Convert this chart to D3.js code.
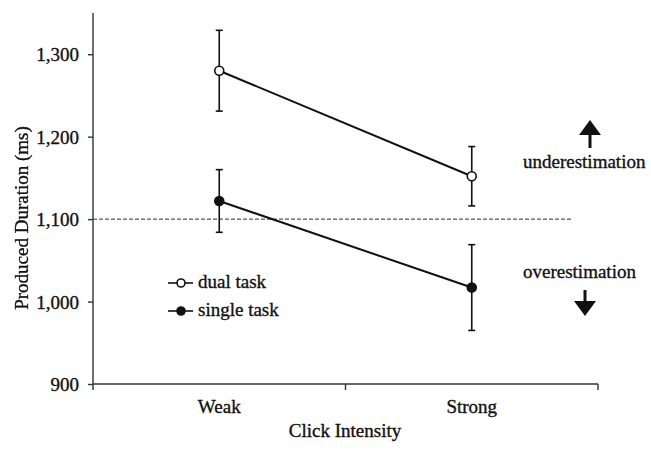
<!doctype html>
<html lang="en">

<head>
    <meta charset="utf-8">
    <title>Produced Duration</title>
    <style>
        body {
            margin: 0;
            background: #fff;
        }

        text {
            font-family: "Liberation Serif", "Times New Roman", serif;
            font-size: 19px;
            fill: #111;
            stroke: #111;
            stroke-width: 0.35px;
        }

        .ylabel {
            filter: grayscale(1);
        }

        .axis path,
        .axis line {
            stroke: #333;
            stroke-width: 1.4px;
        }
    </style>
</head>

<body>
    <div id="chart"></div>
    <script src="https://cdn.jsdelivr.net/npm/d3@7"></script>

    <script>
        var categories = ["Weak", "Strong"];
        var yTicks = [900, 1000, 1100, 1200, 1300];
        var dualMeans = [1280, 1152];
        var dualErrors = [49, 36];
        var singleMeans = [1122, 1017];
        var singleErrors = [38, 52];
        var reference = 1100;

        (function () {
            var width = 651;
            var height = 451;

            var svg = d3.select("#chart")
                .append("svg")
                .attr("width", width)
                .attr("height", height);

            var x = d3.scaleBand().domain(categories).range([93, 598]).padding(0);
            var y = d3.scaleLinear().domain([900, 1350]).range([384, 13]);

            // y axis
            var yAxis = svg.append("g")
                .attr("class", "axis")
                .attr("transform", "translate(93,0)")
                .call(d3.axisLeft(y).tickValues(yTicks).tickSize(5).tickSizeOuter(0)
                    .tickFormat(d3.format(",")));
            yAxis.select(".domain").attr("d", "M0," + y(1350) + "V" + (y(900) + 6));
            yAxis.selectAll("text").attr("x", -14).attr("dy", "0.34em");

            // x axis, ticks at band edges
            var xAxis = svg.append("g")
                .attr("class", "axis")
                .attr("transform", "translate(0," + y(900) + ")");
            xAxis.append("line")
                .attr("x1", x.range()[0]).attr("x2", x.range()[1]);
            xAxis.selectAll(".edge")
                .data(categories.slice(1).concat(["end"]))
                .enter().append("line")
                .attr("class", "edge")
                .attr("x1", function (d) { return d === "end" ? x.range()[1] : x(d); })
                .attr("x2", function (d) { return d === "end" ? x.range()[1] : x(d); })
                .attr("y1", 0).attr("y2", 6);
            xAxis.selectAll(".cat")
                .data(categories)
                .enter().append("text")
                .attr("class", "cat")
                .attr("text-anchor", "middle")
                .attr("x", function (d) { return x(d) + x.bandwidth() / 2; })
                .attr("y", 29)
                .text(function (d) { return d; });

            svg.append("text")
                .attr("text-anchor", "middle")
                .attr("x", 345)
                .attr("y", 437)
                .text("Click Intensity");

            svg.append("text")
                .attr("class", "ylabel")
                .attr("text-anchor", "middle")
                .attr("transform", "translate(28,218) rotate(-90)")
                .text("Produced Duration (ms)");

            // reference line
            svg.append("line")
                .attr("x1", 93).attr("x2", 571)
                .attr("y1", y(reference)).attr("y2", y(reference))
                .attr("stroke", "#555")
                .attr("stroke-width", 1.2)
                .attr("stroke-dasharray", "4,2");

            var cx = function (d, i) { return x(categories[i]) + x.bandwidth() / 2; };
            var line = d3.line()
                .x(function (d, i) { return cx(d, i); })
                .y(function (d) { return y(d); });

            function drawSeries(means, errors, fill) {
                var g = svg.append("g");
                g.append("path")
                    .datum(means)
                    .attr("d", line)
                    .attr("fill", "none")
                    .attr("stroke", "#111")
                    .attr("stroke-width", 2);
                var bars = g.selectAll(".err").data(means).enter().append("g");
                bars.append("line")
                    .attr("x1", cx).attr("x2", cx)
                    .attr("y1", function (d, i) { return y(d + errors[i]); })
                    .attr("y2", function (d, i) { return y(d - errors[i]); })
                    .attr("stroke", "#111").attr("stroke-width", 1.6);
                [1, -1].forEach(function (s) {
                    bars.append("line")
                        .attr("x1", function (d, i) { return cx(d, i) - 3.5; })
                        .attr("x2", function (d, i) { return cx(d, i) + 3.5; })
                        .attr("y1", function (d, i) { return y(d + s * errors[i]); })
                        .attr("y2", function (d, i) { return y(d + s * errors[i]); })
                        .attr("stroke", "#111").attr("stroke-width", 1.6);
                });
                g.selectAll("circle").data(means).enter().append("circle")
                    .attr("cx", cx)
                    .attr("cy", function (d) { return y(d); })
                    .attr("r", 4.5)
                    .attr("fill", fill)
                    .attr("stroke", "#111")
                    .attr("stroke-width", 1.6);
            }

            drawSeries(dualMeans, dualErrors, "#fff");
            drawSeries(singleMeans, singleErrors, "#111");

            // legend
            var legend = [["dual task", "#fff", 283], ["single task", "#111", 311]];
            legend.forEach(function (l) {
                var g = svg.append("g").attr("transform", "translate(0," + l[2] + ")");
                g.append("line").attr("x1", 168).attr("x2", 193)
                    .attr("stroke", "#111").attr("stroke-width", 1.6);
                g.append("circle").attr("cx", 181).attr("r", 4)
                    .attr("fill", l[1]).attr("stroke", "#111").attr("stroke-width", 1.6);
                g.append("text").attr("x", 198).attr("y", 5).text(l[0]);
            });

            // annotations
            svg.append("text").attr("x", 523).attr("y", 168).text("underestimation");
            svg.append("text").attr("x", 523).attr("y", 278).text("overestimation");

            svg.append("line").attr("x1", 590).attr("x2", 590).attr("y1", 132).attr("y2", 148)
                .attr("stroke", "#111").attr("stroke-width", 3);
            svg.append("path").attr("d", "M590,120L579,135L601,135Z").attr("fill", "#111");

            svg.append("line").attr("x1", 585).attr("x2", 585).attr("y1", 290).attr("y2", 305)
                .attr("stroke", "#111").attr("stroke-width", 3);
            svg.append("path").attr("d", "M585,316L574,301L596,301Z").attr("fill", "#111");
        })();
    </script>
</body>

</html>
